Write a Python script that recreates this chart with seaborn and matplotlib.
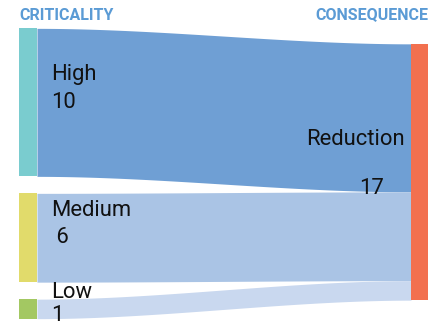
import numpy as np
import matplotlib
matplotlib.use("Agg")
import matplotlib.pyplot as plt
import seaborn as sns

# ---- data ----
sources = ["High", "Medium", "Low"]
source_values = [10, 6, 1]
source_value_labels = ["10", " 6", "1"]
target = "Reduction"
target_value = 17
source_colors = ["#7ACCCF", "#E1DB6B", "#A3C862"]
target_color = "#F2704F"
link_colors = ["#6F9FD4", "#AAC4E5", "#C9D8EF"]
header_left = "CRITICALITY"
header_right = "CONSEQUENCE"

sns.set_theme(style="white")
plt.rcParams['font.family'] = ['Roboto', 'DejaVu Sans']

W, H = 437, 331
fig = plt.figure(figsize=(W / 100, H / 100), dpi=100)
ax = fig.add_axes([0, 0, 1, 1])
ax.set_xlim(0, W)
ax.set_ylim(H, 0)
ax.axis("off")

k = 14.8      # px per unit
min_h = 19.5
gap = 17.0
center_y = 173.5
lx0, lx1 = 19, 37
rx0, rx1 = 411, 428

heights = [max(v * k, min_h) for v in source_values]
total_left = sum(heights) + gap * (len(heights) - 1)
y = center_y - total_left / 2
left_pos = []
for h in heights:
    left_pos.append((y, y + h))
    y += h + gap

r_h = sum(heights)
r_top = center_y - r_h / 2 - 1.5
r_bot = r_top + r_h

# links
t = np.linspace(0, 1, 200)
s = 3 * t ** 2 - 2 * t ** 3
xs = lx1 + (rx0 - lx1) * t
ry = r_top
for (a, b), h, c in zip(left_pos, heights, link_colors):
    rb = ry + h
    top = a + (ry - a) * s
    bot = b + (rb - b) * s
    ax.fill_between(xs, top, bot, color=c, lw=0, zorder=1)
    ry = rb

# nodes
for (a, b), c in zip(left_pos, source_colors):
    ax.fill_between([lx0, lx1], a, b, color=c, lw=0, zorder=2)
ax.fill_between([rx0, rx1], r_top, r_bot, color=target_color, lw=0, zorder=2)

# labels
fs = 15.8
for (a, b), name, vl in zip(left_pos, sources, source_value_labels):
    cy = (a + b) / 2
    if b - a < 30:
        n_off, v_off = -16, 7
    else:
        n_off, v_off = -27.5, 0
    ax.text(lx1 + 14, cy + n_off, name, fontsize=fs, ha="left", va="center", color="#111111", zorder=3)
    ax.text(lx1 + 14, cy + v_off, vl, fontsize=fs, ha="left", va="center", color="#111111", zorder=3)

rc = (r_top + r_bot) / 2
ax.text(rx0 - 6, rc - 32.5, target, fontsize=fs, ha="right", va="center", color="#111111", zorder=3)
ax.text(rx0 - 39.5, rc + 16.5, str(target_value), fontsize=fs, ha="center", va="center", color="#111111", zorder=3)

ax.text(lx0, 15, header_left, fontsize=11.5, fontweight="bold", color="#5B9BD5", ha="left", va="center")
ax.text(rx1, 15, header_right, fontsize=11.5, fontweight="bold", color="#5B9BD5", ha="right", va="center")

fig.savefig("out.png", dpi=100)
